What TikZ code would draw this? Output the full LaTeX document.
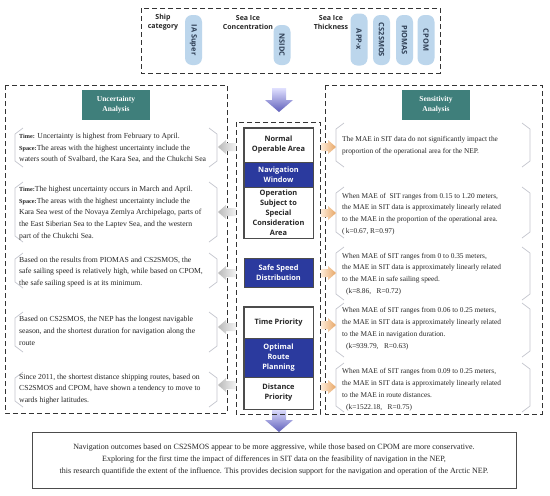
\documentclass[tikz,border=0pt]{standalone}
\usepackage{fontspec}
\setmainfont{Liberation Serif}
\newfontfamily\hsans{Open Sans}
\newcommand\tlab{\bfseries\fontsize{6.2}{7}\selectfont}
\definecolor{tealhd}{HTML}{3F7F7B}
\definecolor{navyb}{HTML}{2B3A9E}
\definecolor{pillc}{HTML}{BCD6EC}
\definecolor{pilltx}{HTML}{2F3F55}
\definecolor{brkc}{HTML}{C4C6CE}
\begin{document}
\begin{tikzpicture}[x=1pt,y=-1pt,
  dashbox/.style={draw=black!80, line width=1pt, dash pattern=on 5pt off 3pt},
  pillnode/.style={fill=pillc, rounded corners=7pt, rotate=-90, minimum height=17pt, inner sep=0pt, text=pilltx, font=\hsans\bfseries\fontsize{7.4}{8}\selectfont},
  toplab/.style={align=center, font=\hsans\bfseries\fontsize{7}{9}\selectfont, text=black!85},
  hdr/.style={fill=tealhd, text=white, align=center, minimum width=68pt, minimum height=30pt, inner sep=0pt, font=\bfseries\fontsize{7.5}{10}\selectfont},
  txt/.style={align=left, inner sep=0pt, anchor=west, font=\fontsize{7.7}{11.7}\selectfont, text=black!85},
  rtxt/.style={txt, font=\fontsize{7.35}{11.8}\selectfont},
  wbox/.style={draw=black!70, line width=0.8pt, fill=white, minimum width=69pt, inner sep=0pt, align=center, font=\hsans\bfseries\fontsize{7.4}{10}\selectfont, text=black!85},
  bbox/.style={wbox, fill=navyb, text=white},
  brk/.style={draw=brkc, line width=0.7pt}
]
\useasboundingbox (0,0) rectangle (550,496);
\fill[white] (0,0) rectangle (550,496);

% ---------- top box ----------
\draw[dashbox] (141,8) rectangle (440,73);
\node[toplab] (shipcat) at (163,22.5) {Ship\\category};
\node[toplab] (sic) at (248,22.5) {Sea Ice\\Concentration};
\node[toplab] (sit) at (331,22.5) {Sea Ice\\Thickness};
\node[pillnode, minimum width=50pt] (ia) at (193.5,40) {IA Super};
\node[pillnode, minimum width=40pt] (nsidc) at (282,45) {NSIDC};
\node[pillnode, minimum width=52pt] (appx) at (359,39.5) {APP-x};
\node[pillnode, minimum width=50pt] (cs2) at (381.5,40) {CS2SMOS};
\node[pillnode, minimum width=50pt] (piomas) at (404.5,40) {PIOMAS};
\node[pillnode, minimum width=50pt] (cpom) at (426,40) {CPOM};

% ---------- big arrows ----------
\shade[top color=blue!12!white, bottom color=blue!40!gray!90] (272,88) -- (286,88) -- (286,100) -- (293,100) -- (279,112) -- (265,100) -- (272,100) -- cycle;
\shade[top color=blue!12!white, bottom color=blue!40!gray!90] (272,409) -- (286,409) -- (286,420) -- (293,420) -- (279,432) -- (265,420) -- (272,420) -- cycle;

% ---------- panels ----------
\draw[dashbox] (5,85) rectangle (227,413);
\draw[dashbox] (236,122) rectangle (320,414);
\draw[dashbox] (325,85) rectangle (542,414);

\node[hdr] (ua) at (116,105) {Uncertainty\\Analysis};
\node[hdr] (sa) at (436,104.5) {Sensitivity\\Analysis};

% ---------- brackets ----------
\foreach \xa/\xb/\ya/\yb in {15/217/128/167, 15/217/182/242, 15/217/253/288, 15/217/312/352, 15/217/372/407,
                             336/530/123/167, 336/530/187/238, 336/530/247/300, 336/530/303/357, 336/530/363/412}{
  \draw[brk] (\xa+8,\ya) -- (\xa,\ya+6) -- (\xa,\yb-6) -- (\xa+8,\yb);
  \draw[brk] (\xb-8,\ya) -- (\xb,\ya+6) -- (\xb,\yb-6) -- (\xb-8,\yb);
}

% ---------- left texts ----------
\node[txt] (l1) at (19,148) {{\tlab Time:} Uncertainty is highest from February to April.\\{\tlab Space:}The areas with the highest uncertainty include the\\waters south of Svalbard, the Kara Sea, and the Chukchi Sea};
\node[txt] (l2) at (19,213) {{\tlab Time:}The highest uncertainty occurs in March and April.\\{\tlab Space:}The areas with the highest uncertainty include the\\Kara Sea west of the Novaya Zemlya Archipelago, parts of\\the East Siberian Sea to the Laptev Sea, and the western\\part of the Chukchi Sea.};
\node[txt] (l3) at (19,272) {Based on the results from PIOMAS and CS2SMOS, the\\safe sailing speed is relatively high, while based on CPOM,\\the safe sailing speed is at its minimum.};
\node[txt] (l4) at (19,331) {Based on CS2SMOS, the NEP has the longest navigable\\season, and the shortest duration for navigation along the\\route};
\node[txt] (l5) at (19,389) {Since 2011, the shortest distance shipping routes, based on\\CS2SMOS and CPOM, have shown a tendency to move to\\wards higher latitudes.};

% ---------- right texts ----------
\node[rtxt] (r1) at (342,146) {The MAE in SIT data do not significantly impact the\\proportion of the operational area for the NEP.};
\node[rtxt] (r2) at (342,214) {When MAE of\ \ SIT ranges from 0.15 to 1.20 meters,\\the MAE in SIT data is approximately linearly related\\to the MAE in the proportion of the operational area.\\(\,k=0.67, R=0.97)};
\node[rtxt] (r3) at (342,274) {When MAE of SIT ranges from 0 to 0.35 meters,\\the MAE in SIT data is approximately linearly related\\to the MAE in safe sailing speed.\\\hspace*{4pt}(k=8.86,\ \ \ R=0.72)};
\node[rtxt] (r4) at (342,328.5) {When MAE of SIT ranges from 0.06 to 0.25 meters,\\the MAE in SIT data is approximately linearly related\\to the MAE in navigation duration.\\\hspace*{4pt}(k=939.79,\ \ \ R=0.63)};
\node[rtxt] (r5) at (342,389.5) {When MAE of SIT ranges from 0.09 to 0.25 meters,\\the MAE in SIT data is approximately linearly related\\to the MAE in route distances.\\\hspace*{4pt}(k=1522.18,\ \ \ R=0.75)};

% ---------- center stacks ----------
\node[wbox, minimum height=34pt] (noa) at (278.5,145) {Normal\\Operable Area};
\node[bbox, minimum height=25pt] (nw) at (278.5,174.5) {Navigation\\Window};
\node[wbox, minimum height=51pt] (os) at (278.5,212.5) {Operation\\Subject to\\Special\\Consideration\\Area};
\node[bbox, minimum height=29pt] (ssd) at (278.5,272.5) {Safe Speed\\Distribution};
\node[wbox, minimum height=31pt] (tp) at (278.5,322.5) {Time Priority};
\node[bbox, minimum height=39pt] (orp) at (278.5,357.5) {Optimal\\Route\\Planning};
\node[wbox, minimum height=32pt] (dp) at (278.5,393) {Distance\\Priority};
\draw[black!70, line width=0.8pt] (noa.north west) rectangle (os.south east);
\draw[black!70, line width=0.8pt] (tp.north west) rectangle (dp.south east);

% ---------- small arrows ----------
\foreach \yy in {147,212,273,327,385}{
  \shade[left color=gray!55, right color=gray!8] (218,\yy) -- (226,\yy-7) -- (226,\yy-4) -- (236,\yy-4) -- (236,\yy+4) -- (226,\yy+4) -- (226,\yy+7) -- cycle;
}
\foreach \yy in {147,213,273,325,387}{
  \shade[left color=orange!15!white, right color=brown!55!orange!70] (321,\yy-4) -- (328,\yy-4) -- (328,\yy-7) -- (336,\yy) -- (328,\yy+7) -- (328,\yy+4) -- (321,\yy+4) -- cycle;
}

% ---------- bottom box ----------
\node[draw=black!70, line width=1pt, fill=white, minimum width=484pt, minimum height=56pt, inner sep=0pt,
      align=center, font=\fontsize{8}{12}\selectfont, text=black!85] (concl) at (274,460)
  {Navigation outcomes based on CS2SMOS appear to be more aggressive, while those based on CPOM are more conservative.\\
   Exploring for the first time the impact of differences in SIT data on the feasibility of navigation in the NEP,\\
   this research quantifide the extent of the influence. This provides decision support for the navigation and operation of the Arctic NEP.};
\end{tikzpicture}
\end{document}
